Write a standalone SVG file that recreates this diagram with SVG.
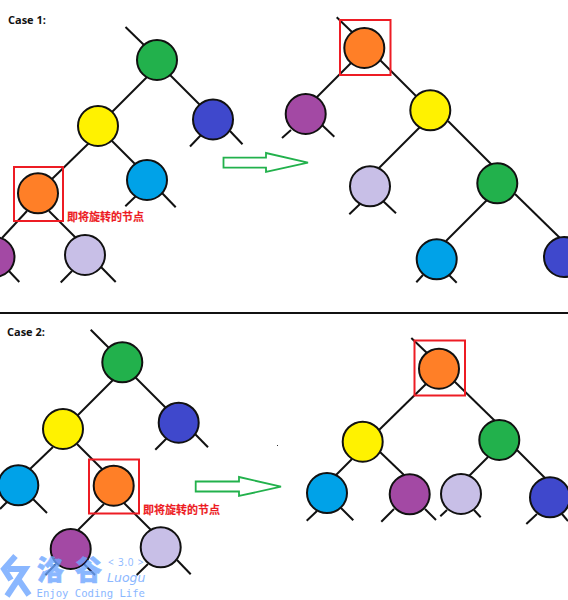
<svg xmlns="http://www.w3.org/2000/svg" width="568" height="600" viewBox="0 0 568 600">
<style>
.c line{stroke:#111;stroke-width:2;stroke-linecap:butt}
.n{stroke:#111;stroke-width:2}
.g{fill:#22b14c}.y{fill:#fff200}.b{fill:#3f48cc}.o{fill:#ff7f27}.a{fill:#00a2e8}.p{fill:#a349a4}.l{fill:#c8bfe7}
.sel{fill:none;stroke:#ed1c24;stroke-width:2}
.arr{fill:#fff;stroke:#22b14c;stroke-width:1.800}
.case{font:bold 11px "Open Sans","Liberation Sans",sans-serif;fill:#111}
.note{font:bold 11px "Noto Sans CJK SC",sans-serif;fill:#ed1c24;stroke:#ed1c24;stroke-width:0.150}
.wm{fill:#6ea6ff}
.wmb{font:900 27px "Noto Sans CJK SC",sans-serif;stroke:#6ea6ff;stroke-width:0.600}
</style>
<rect width="568" height="600" fill="#fff"/>
<text class="case" x="8" y="24">Case 1:</text>
<text class="case" x="7" y="336">Case 2:</text>
<line x1="0" y1="313" x2="568" y2="313" stroke="#111" stroke-width="2"/>
<rect x="277" y="445" width="1" height="1" fill="#333"/>
<g id="connectors" class="c">
<line x1="125.5" y1="27" x2="144" y2="45"/><line x1="148" y1="76" x2="112" y2="112"/><line x1="170" y1="75" x2="200" y2="105"/>
<line x1="89" y1="143" x2="52" y2="179"/><line x1="111" y1="140" x2="135" y2="164"/>
<line x1="201" y1="135" x2="190" y2="146.5"/><line x1="230" y1="131" x2="242.5" y2="144.3"/>
<line x1="136" y1="196" x2="125.3" y2="206.3"/><line x1="162" y1="193" x2="175.7" y2="207.3"/>
<line x1="27" y1="211" x2="2" y2="238"/><line x1="49" y1="211" x2="76" y2="238"/>
<line x1="8" y1="270" x2="19.3" y2="282"/><line x1="72" y1="271" x2="60.7" y2="282.5"/><line x1="101" y1="267" x2="115.7" y2="282"/>
<line x1="336.7" y1="17.3" x2="353" y2="33"/><line x1="351" y1="63" x2="317" y2="97"/><line x1="380" y1="60" x2="416" y2="96"/>
<line x1="291" y1="130" x2="282" y2="138"/><line x1="322" y1="125" x2="334.3" y2="136.7"/>
<line x1="420" y1="127" x2="379" y2="168"/><line x1="448" y1="121" x2="492" y2="165"/>
<line x1="360" y1="204" x2="349.3" y2="214.3"/><line x1="383" y1="201" x2="396" y2="213.3"/>
<line x1="487" y1="200" x2="446" y2="241"/><line x1="515" y1="194" x2="560" y2="238"/>
<line x1="423" y1="275" x2="416.3" y2="282.3"/><line x1="449" y1="275" x2="456.7" y2="282.7"/>
<line x1="90.7" y1="329.7" x2="109" y2="348"/><line x1="113" y1="380" x2="77" y2="416"/><line x1="135" y1="377" x2="166" y2="408"/>
<line x1="167" y1="438" x2="155.3" y2="449.7"/><line x1="195" y1="434" x2="208" y2="447.3"/>
<line x1="53" y1="447" x2="30" y2="469"/><line x1="77" y1="444" x2="103" y2="470"/>
<line x1="7" y1="502" x2="0" y2="509"/><line x1="33" y1="499" x2="47" y2="513"/>
<line x1="104" y1="504" x2="78" y2="530"/><line x1="123" y1="502" x2="151" y2="530"/>
<line x1="56" y1="564" x2="45.3" y2="575"/><line x1="84" y1="564" x2="95" y2="575"/>
<line x1="148" y1="564" x2="136.7" y2="575"/><line x1="177" y1="560" x2="190.7" y2="574.3"/>
<line x1="411.3" y1="338" x2="427" y2="353"/><line x1="426" y1="384" x2="379" y2="430"/><line x1="454" y1="381" x2="495" y2="421"/>
<line x1="352" y1="459" x2="336" y2="475"/><line x1="380" y1="452" x2="404" y2="475"/>
<line x1="488" y1="457" x2="469" y2="476"/><line x1="517" y1="450" x2="545" y2="478"/>
<line x1="317" y1="511" x2="306.7" y2="520.7"/><line x1="341" y1="508" x2="353.3" y2="520.3"/>
<line x1="394" y1="509" x2="381.3" y2="521.7"/><line x1="425" y1="509" x2="436" y2="520"/>
<line x1="447" y1="510" x2="440.3" y2="516.3"/><line x1="474" y1="510" x2="480.7" y2="517.3"/>
<line x1="537" y1="514" x2="526.3" y2="524"/><line x1="562" y1="514" x2="568" y2="521"/>
</g>
<g id="case1-before">
<g id="a1-green"><circle class="n g" cx="157" cy="60" r="20"/></g>
<g id="a1-yellow"><circle class="n y" cx="98" cy="126" r="20"/></g>
<g id="a1-blue"><circle class="n b" cx="213" cy="119.500" r="20"/></g>
<g id="a1-orange"><circle class="n o" cx="38" cy="193.300" r="20"/></g>
<g id="a1-cyan"><circle class="n a" cx="147" cy="180" r="20"/></g>
<g id="a1-purple"><circle class="n p" cx="-5.500" cy="257" r="20"/></g>
<g id="a1-lavender"><circle class="n l" cx="85" cy="255" r="20"/></g>
<rect id="a1-select" class="sel" x="14" y="167" width="49" height="54"/>
<text id="a1-note" class="note" x="67" y="221">即将旋转的节点</text>
</g>
<g id="case1-after">
<g id="b1-orange"><circle class="n o" cx="364.300" cy="48" r="20"/></g>
<g id="b1-purple"><circle class="n p" cx="305.700" cy="114" r="20"/></g>
<g id="b1-yellow"><circle class="n y" cx="430.300" cy="110.300" r="20"/></g>
<g id="b1-lavender"><circle class="n l" cx="370" cy="186.300" r="20"/></g>
<g id="b1-green"><circle class="n g" cx="497.300" cy="183.300" r="20"/></g>
<g id="b1-cyan"><circle class="n a" cx="436.700" cy="259.300" r="20"/></g>
<g id="b1-blue"><circle class="n b" cx="564" cy="257" r="20"/></g>
<rect id="b1-select" class="sel" x="340" y="20" width="50.500" height="55"/>
</g>
<g id="arrow1"><polygon class="arr" points="223.500,157.700 266,157.700 266,153 308,162.700 266,172 266,167.700 223.500,167.700"/></g>
<g id="case2-before">
<g id="a2-green"><circle class="n g" cx="122.300" cy="362.300" r="20"/></g>
<g id="a2-yellow"><circle class="n y" cx="63" cy="429" r="20"/></g>
<g id="a2-blue"><circle class="n b" cx="178.700" cy="422.700" r="20"/></g>
<g id="a2-cyan"><circle class="n a" cx="18.300" cy="485.300" r="20"/></g>
<g id="a2-orange"><circle class="n o" cx="113.700" cy="485.700" r="20"/></g>
<g id="a2-purple"><circle class="n p" cx="70.700" cy="549" r="20"/></g>
<g id="a2-lavender"><circle class="n l" cx="160.700" cy="547.300" r="20"/></g>
<rect id="a2-select" class="sel" x="89" y="459.500" width="50" height="54"/>
<text id="a2-note" class="note" x="143" y="514">即将旋转的节点</text>
</g>
<g id="case2-after">
<g id="b2-orange"><circle class="n o" cx="439" cy="368.700" r="20"/></g>
<g id="b2-yellow"><circle class="n y" cx="362.700" cy="441.700" r="20"/></g>
<g id="b2-green"><circle class="n g" cx="499.300" cy="440" r="20"/></g>
<g id="b2-cyan"><circle class="n a" cx="327" cy="493" r="20"/></g>
<g id="b2-purple"><circle class="n p" cx="409.700" cy="494.300" r="20"/></g>
<g id="b2-lavender"><circle class="n l" cx="461" cy="494" r="20"/></g>
<g id="b2-blue"><circle class="n b" cx="550" cy="497.300" r="20"/></g>
<rect id="b2-select" class="sel" x="414.500" y="340.500" width="50.500" height="55"/>
</g>
<g id="arrow2"><polygon class="arr" points="195.700,481.500 239,481.500 239,477 281,486.700 239,496 239,491.500 195.700,491.500"/></g>
<g id="watermark" opacity="0.8">
<path d="M15.500 556 L4 569 L11 580 M8 569 H25 L7 596 M18 579 L29 595" fill="none" stroke="#6ea6ff" stroke-width="6"/>
<text class="wm wmb" x="37" y="580">洛</text>
<text class="wm wmb" x="75" y="580">谷</text>
<text class="wm" x="108" y="566" font-family="Open Sans, sans-serif" font-size="10" letter-spacing="0.800">&lt; 3.0 &gt;</text>
<text class="wm" x="107" y="582" font-family="DejaVu Sans, sans-serif" font-style="italic" font-size="12.500">Luogu</text>
<text class="wm" x="36.500" y="597" font-family="DejaVu Sans Mono, monospace" font-size="10.600">Enjoy Coding Life</text>
</g>
</svg>
